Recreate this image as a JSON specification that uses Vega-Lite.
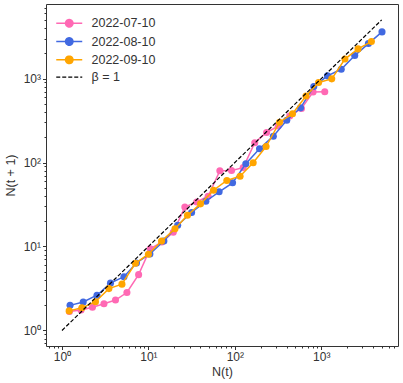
{
  "$schema": "https://vega.github.io/schema/vega-lite/v6.json",
  "width": 352,
  "height": 342,
  "autosize": {"type": "none"},
  "padding": {"left": 46, "top": 4, "right": 5, "bottom": 37},
  "background": "white",
  "config": {
    "font": "Liberation Sans",
    "view": {"stroke": "#333333", "strokeWidth": 1},
    "axis": {
      "grid": false,
      "domain": false,
      "tickColor": "#333333",
      "labelColor": "#333333",
      "titleColor": "#333333",
      "labelFontSize": 12,
      "titleFontSize": 12.5,
      "titleFontWeight": "normal",
      "labelFont": "Liberation Sans",
      "titleFont": "Liberation Sans"
    }
  },
  "data": {
    "values": [
      {"s": "2022-07-10", "x": 1.22, "y": 1.68},
      {"s": "2022-07-10", "x": 1.66, "y": 1.75},
      {"s": "2022-07-10", "x": 2.25, "y": 1.89},
      {"s": "2022-07-10", "x": 3.06, "y": 2.08},
      {"s": "2022-07-10", "x": 4.16, "y": 2.30},
      {"s": "2022-07-10", "x": 5.64, "y": 2.83},
      {"s": "2022-07-10", "x": 7.70, "y": 4.62},
      {"s": "2022-07-10", "x": 10.5, "y": 9.4},
      {"s": "2022-07-10", "x": 14.3, "y": 11.3},
      {"s": "2022-07-10", "x": 19.4, "y": 14.8},
      {"s": "2022-07-10", "x": 26.4, "y": 29.5},
      {"s": "2022-07-10", "x": 36.2, "y": 33.9},
      {"s": "2022-07-10", "x": 49.1, "y": 39.7},
      {"s": "2022-07-10", "x": 67.1, "y": 79.7},
      {"s": "2022-07-10", "x": 91.6, "y": 80.3},
      {"s": "2022-07-10", "x": 125, "y": 87},
      {"s": "2022-07-10", "x": 170, "y": 172},
      {"s": "2022-07-10", "x": 233, "y": 228},
      {"s": "2022-07-10", "x": 317, "y": 272},
      {"s": "2022-07-10", "x": 432, "y": 358},
      {"s": "2022-07-10", "x": 590, "y": 440},
      {"s": "2022-07-10", "x": 804, "y": 691},
      {"s": "2022-07-10", "x": 1098, "y": 695},
      {"s": "2022-08-10", "x": 1.24, "y": 1.99},
      {"s": "2022-08-10", "x": 1.76, "y": 2.18},
      {"s": "2022-08-10", "x": 2.54, "y": 2.63},
      {"s": "2022-08-10", "x": 3.64, "y": 3.66},
      {"s": "2022-08-10", "x": 5.21, "y": 4.37},
      {"s": "2022-08-10", "x": 7.27, "y": 6.36},
      {"s": "2022-08-10", "x": 10.4, "y": 8.14},
      {"s": "2022-08-10", "x": 15.1, "y": 11.6},
      {"s": "2022-08-10", "x": 21.8, "y": 17.9},
      {"s": "2022-08-10", "x": 31.6, "y": 25.4},
      {"s": "2022-08-10", "x": 46.2, "y": 34.6},
      {"s": "2022-08-10", "x": 65.8, "y": 44.8},
      {"s": "2022-08-10", "x": 94.1, "y": 57.3},
      {"s": "2022-08-10", "x": 134, "y": 96.5},
      {"s": "2022-08-10", "x": 193, "y": 146},
      {"s": "2022-08-10", "x": 279, "y": 206},
      {"s": "2022-08-10", "x": 399, "y": 319},
      {"s": "2022-08-10", "x": 576, "y": 448},
      {"s": "2022-08-10", "x": 819, "y": 803},
      {"s": "2022-08-10", "x": 1179, "y": 1077},
      {"s": "2022-08-10", "x": 1703, "y": 1290},
      {"s": "2022-08-10", "x": 2439, "y": 1878},
      {"s": "2022-08-10", "x": 3513, "y": 2611},
      {"s": "2022-08-10", "x": 5046, "y": 3597},
      {"s": "2022-09-10", "x": 1.21, "y": 1.71},
      {"s": "2022-09-10", "x": 1.70, "y": 1.86},
      {"s": "2022-09-10", "x": 2.44, "y": 2.20},
      {"s": "2022-09-10", "x": 3.49, "y": 3.15},
      {"s": "2022-09-10", "x": 4.94, "y": 3.56},
      {"s": "2022-09-10", "x": 7.07, "y": 6.31},
      {"s": "2022-09-10", "x": 10.0, "y": 8.09},
      {"s": "2022-09-10", "x": 14.2, "y": 11.6},
      {"s": "2022-09-10", "x": 20.3, "y": 16.3},
      {"s": "2022-09-10", "x": 28.3, "y": 23.6},
      {"s": "2022-09-10", "x": 40.1, "y": 32.2},
      {"s": "2022-09-10", "x": 56.7, "y": 46.8},
      {"s": "2022-09-10", "x": 80.8, "y": 61.1},
      {"s": "2022-09-10", "x": 115, "y": 68.7},
      {"s": "2022-09-10", "x": 163, "y": 99.2},
      {"s": "2022-09-10", "x": 230, "y": 155},
      {"s": "2022-09-10", "x": 329, "y": 302},
      {"s": "2022-09-10", "x": 465, "y": 381},
      {"s": "2022-09-10", "x": 666, "y": 619},
      {"s": "2022-09-10", "x": 931, "y": 897},
      {"s": "2022-09-10", "x": 1322, "y": 992},
      {"s": "2022-09-10", "x": 1879, "y": 1707},
      {"s": "2022-09-10", "x": 2664, "y": 2257},
      {"s": "2022-09-10", "x": 3804, "y": 2757},
      {"s": "β = 1", "x": 1, "y": 1},
      {"s": "β = 1", "x": 5000, "y": 5000}
    ]
  },
  "encoding": {
    "x": {
      "field": "x",
      "type": "quantitative",
      "scale": {"type": "log", "domain": [0.653, 7727], "nice": false, "zero": false},
      "axis": {
        "title": "N(t)",
        "values": [0.7, 0.8, 0.9, 1, 2, 3, 4, 5, 6, 7, 8, 9, 10, 20, 30, 40, 50, 60, 70, 80, 90, 100, 200, 300, 400, 500, 600, 700, 800, 900, 1000, 2000, 3000, 4000, 5000, 6000, 7000],
        "labelExpr": "datum.value == 1 ? '10⁰' : datum.value == 10 ? '10¹' : datum.value == 100 ? '10²' : datum.value == 1000 ? '10³' : ''",
        "tickSize": {"condition": {"test": "datum.value == 1 || datum.value == 10 || datum.value == 100 || datum.value == 1000", "value": 3.5}, "value": 2},
        "labelOverlap": false,
        "labelFlush": false,
        "labelPadding": 2,
        "titlePadding": 3
      }
    },
    "y": {
      "field": "y",
      "type": "quantitative",
      "scale": {"type": "log", "domain": [0.653, 7727], "nice": false, "zero": false},
      "axis": {
        "title": "N(t + 1)",
        "values": [0.7, 0.8, 0.9, 1, 2, 3, 4, 5, 6, 7, 8, 9, 10, 20, 30, 40, 50, 60, 70, 80, 90, 100, 200, 300, 400, 500, 600, 700, 800, 900, 1000, 2000, 3000, 4000, 5000, 6000, 7000],
        "labelExpr": "datum.value == 1 ? '10⁰' : datum.value == 10 ? '10¹' : datum.value == 100 ? '10²' : datum.value == 1000 ? '10³' : ''",
        "tickSize": {"condition": {"test": "datum.value == 1 || datum.value == 10 || datum.value == 100 || datum.value == 1000", "value": 3.5}, "value": 2},
        "labelOverlap": false,
        "labelFlush": false,
        "labelPadding": 2,
        "titlePadding": 6
      }
    },
    "color": {
      "field": "s",
      "type": "nominal",
      "scale": {"domain": ["2022-07-10", "2022-08-10", "2022-09-10", "β = 1"], "range": ["#ff69b4", "#4169e1", "#ffa500", "#000000"]},
      "legend": {
        "orient": "none",
        "legendX": 17,
        "legendY": 13,
        "title": null,
        "symbolSize": 196,
        "rowPadding": 4.3,
        "labelOffset": 16,
        "labelFontSize": 12.5,
        "labelColor": "#333333",
        "labelFont": "Liberation Sans",
        "symbolStrokeWidth": 1.5,
        "encode": {
          "symbols": {
            "update": {
              "shape": {"signal": "datum.value === 'β = 1' ? 'M-1.857,0H1.857' : 'M-1.857,0H1.857M0.53,0A0.53,0.53,0,1,1,-0.53,0A0.53,0.53,0,1,1,0.53,0Z'"},
              "fill": {"signal": "datum.value === 'β = 1' ? 'transparent' : scale('color', datum.value)"},
              "stroke": {"signal": "scale('color', datum.value)"},
              "strokeDash": {"signal": "datum.value === 'β = 1' ? [4, 2] : [1, 0]"},
              "strokeWidth": {"signal": "datum.value === 'β = 1' ? 1.2 : 1.5"},
              "opacity": {"value": 1},
              "size": {"value": 196}
            }
          }
        }
      }
    }
  },
  "layer": [
    {
      "transform": [{"filter": "datum.s === '2022-07-10'"}],
      "mark": {"type": "line", "strokeWidth": 1.5, "point": {"filled": true, "size": 50, "opacity": 1}}
    },
    {
      "transform": [{"filter": "datum.s === '2022-08-10'"}],
      "mark": {"type": "line", "strokeWidth": 1.5, "point": {"filled": true, "size": 50, "opacity": 1}}
    },
    {
      "transform": [{"filter": "datum.s === '2022-09-10'"}],
      "mark": {"type": "line", "strokeWidth": 1.5, "point": {"filled": true, "size": 50, "opacity": 1}}
    },
    {
      "transform": [{"filter": "datum.s === 'β = 1'"}],
      "mark": {"type": "line", "strokeWidth": 1.2, "strokeDash": [4, 2]}
    }
  ]
}
